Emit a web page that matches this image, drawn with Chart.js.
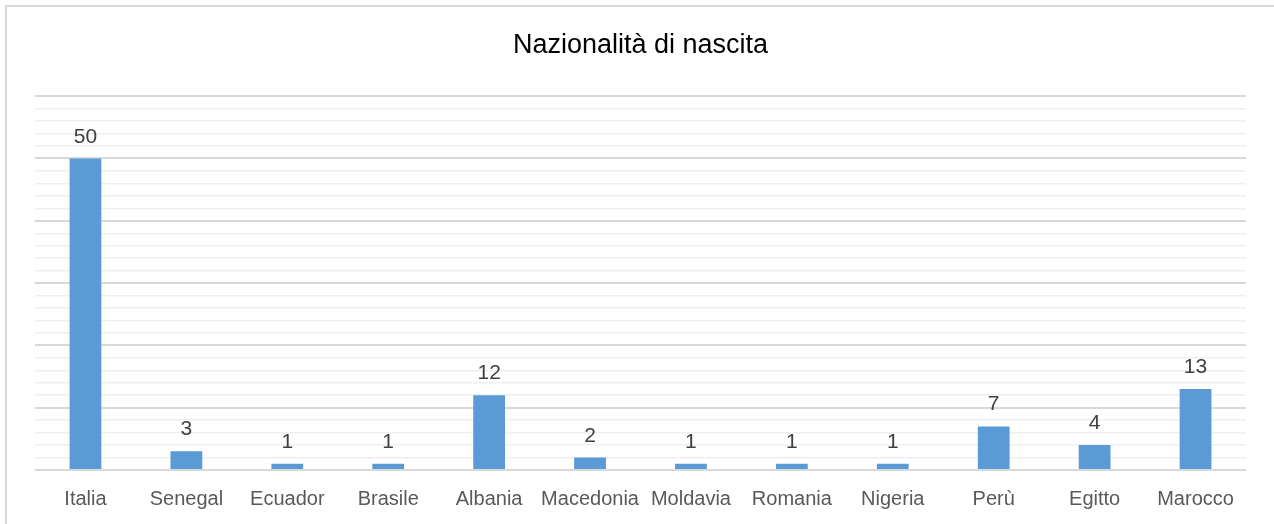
<!DOCTYPE html>
<html>
<head>
<meta charset="utf-8">
<script src="https://cdn.jsdelivr.net/npm/chart.js@4"></script>
<style>
html,body{margin:0;padding:0;background:#fff;overflow:hidden;}
#frame{position:absolute;left:5px;top:5px;width:1290px;height:540px;border:2px solid #d9d9d9;box-sizing:border-box;}
#wrap{position:absolute;left:0;top:0;width:1274px;height:524px;}
</style>
</head>
<body>
<div id="frame"></div>
<div id="wrap"><canvas id="c" width="1274" height="524"></canvas></div>
<script>
const categories = ["Italia","Senegal","Ecuador","Brasile","Albania","Macedonia","Moldavia","Romania","Nigeria","Perù","Egitto","Marocco"];
const values = [50,3,1,1,12,2,1,1,1,7,4,13];
const chartTitle = "Nazionalità di nascita";
const yMin = 0, yMax = 60, yStep = 2, yMajor = 10;

const FONT = "'Liberation Sans', Arial, sans-serif";

const valueLabels = {
  id: 'valueLabels',
  afterDatasetsDraw(chart) {
    const ctx = chart.ctx;
    const meta = chart.getDatasetMeta(0);
    ctx.save();
    ctx.font = "21px " + FONT;
    ctx.fillStyle = "#404040";
    ctx.textAlign = "center";
    ctx.textBaseline = "alphabetic";
    meta.data.forEach((bar, i) => {
      ctx.fillText(String(chart.data.datasets[0].data[i]), bar.x, bar.y - 16);
    });
    ctx.restore();
  }
};

new Chart(document.getElementById('c'), {
  type: 'bar',
  data: {
    labels: categories,
    datasets: [{
      data: values,
      backgroundColor: '#5B9BD5',
      borderWidth: 0,
      categoryPercentage: 1,
      barPercentage: 0.315
    }]
  },
  options: {
    responsive: false,
    animation: false,
    devicePixelRatio: 1,
    layout: { padding: { left: 35, right: 28, top: 0, bottom: 13.6 } },
    plugins: {
      legend: { display: false },
      tooltip: { enabled: false },
      title: {
        display: true,
        text: chartTitle,
        color: '#000',
        font: { family: FONT, size: 27, weight: 'normal' },
        padding: { top: 29.8, bottom: 34 }
      }
    },
    scales: {
      x: {
        grid: { display: false, drawTicks: false, tickLength: 0 },
        border: { display: false },
        afterFit: (scale) => { scale.height = 40.4; },
        ticks: {
          color: '#595959',
          font: { family: FONT, size: 20 },
          padding: 17,
          maxRotation: 0,
          autoSkip: false
        }
      },
      y: {
        min: yMin,
        max: yMax,
        border: { display: false },
        grid: {
          drawTicks: false,
          tickLength: 0,
          color: (c) => (c.tick && c.tick.value % yMajor === 0) ? '#d9d9d9' : '#efefef',
          lineWidth: (c) => (c.tick && c.tick.value % yMajor === 0) ? 2 : 1.5
        },
        ticks: { display: false, stepSize: yStep }
      }
    }
  },
  plugins: [valueLabels]
});
</script>
</body>
</html>
